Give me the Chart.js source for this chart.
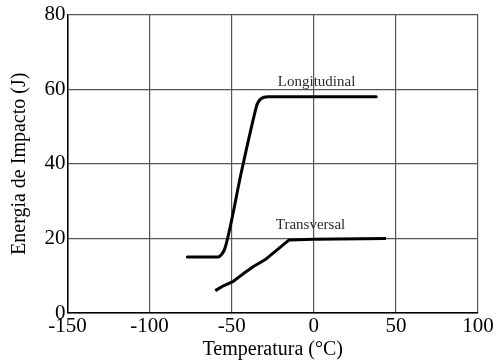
<!DOCTYPE html>
<html>
<head>
<meta charset="utf-8">
<script src="https://cdn.jsdelivr.net/npm/chart.js@4"></script>
<style>
html,body{margin:0;padding:0;background:#fff;}
#wrap{width:497px;height:364px;position:relative;}
</style>
</head>
<body>
<div id="wrap"><canvas id="c" width="497" height="364"></canvas></div>
<script>
const xTicks = [-150, -100, -50, 0, 50, 100];
const yTicks = [0, 20, 40, 60, 80];
const longX = [-77, -58.5, -56, -54, -44, -36, -34.5, -32, -28, 38];
const longY = [15, 15, 15.8, 17.5, 38, 53.5, 56, 57.5, 58, 58];
const transX = [-60, -55, -49, -43, -37, -29, -15, 0, 44];
const transY = [6, 7.3, 8.5, 10.5, 12.4, 14.5, 19.6, 19.8, 20];
const seriesLabels = ["Longitudinal", "Transversal"];
const labelPos = [[1.7, 62], [-2, 23.7]];
const xTitle = "Temperatura (°C)";
const yTitle = "Energia de Impacto (J)";

const serif = "'Liberation Serif', 'Times New Roman', serif";

const annot = {
  id: 'annot',
  afterDatasetsDraw(chart) {
    const ctx = chart.ctx, xs = chart.scales.x, ys = chart.scales.y;
    ctx.save();
    ctx.font = "15px " + serif;
    ctx.fillStyle = "#2a2a3a";
    ctx.textAlign = "center";
    ctx.textBaseline = "middle";
    seriesLabels.forEach((t, i) => {
      ctx.fillText(t, xs.getPixelForValue(labelPos[i][0]), ys.getPixelForValue(labelPos[i][1]));
    });
    ctx.restore();
  }
};

new Chart(document.getElementById('c'), {
  type: 'line',
  data: {
    datasets: [
      { label: seriesLabels[0], data: longX.map((x, i) => ({x, y: longY[i]})),
        borderColor: '#000', borderWidth: 3, pointRadius: 0, cubicInterpolationMode: 'monotone',
        borderJoinStyle: 'round', borderCapStyle: 'round', fill: false },
      { label: seriesLabels[1], data: transX.map((x, i) => ({x, y: transY[i]})),
        borderColor: '#000', borderWidth: 3, pointRadius: 0, tension: 0,
        borderJoinStyle: 'round', borderCapStyle: 'butt', fill: false }
    ]
  },
  options: {
    responsive: false,
    animation: false,
    devicePixelRatio: 1,
    layout: { padding: { top: 13, right: 19, left: 0, bottom: 0 } },
    plugins: { legend: { display: false }, tooltip: { enabled: false } },
    scales: {
      x: {
        type: 'linear', min: -150, max: 100,
        afterBuildTicks: s => { s.ticks = xTicks.map(v => ({value: v})); },
        afterFit: s => { s.height = 51; },
        grid: { color: '#555', lineWidth: 1.2, drawTicks: false },
        border: { color: '#000', width: 1.5 },
        ticks: { color: '#000', font: { family: serif, size: 21 }, padding: 1, maxRotation: 0 },
        title: { display: true, text: xTitle, color: '#000', font: { family: serif, size: 20 }, padding: { top: 0, bottom: 2 } }
      },
      y: {
        type: 'linear', min: 0, max: 80,
        afterBuildTicks: s => { s.ticks = yTicks.map(v => ({value: v})); },
        afterFit: s => { s.width = 67.5; },
        grid: { color: '#555', lineWidth: 1.2, drawTicks: false },
        border: { color: '#000', width: 1.5 },
        ticks: { color: '#000', font: { family: serif, size: 21 }, padding: 2 },
        title: { display: true, text: yTitle, color: '#000', font: { family: serif, size: 20 }, padding: { top: 8, bottom: 4 } }
      }
    }
  },
  plugins: [annot]
});
</script>
</body>
</html>
